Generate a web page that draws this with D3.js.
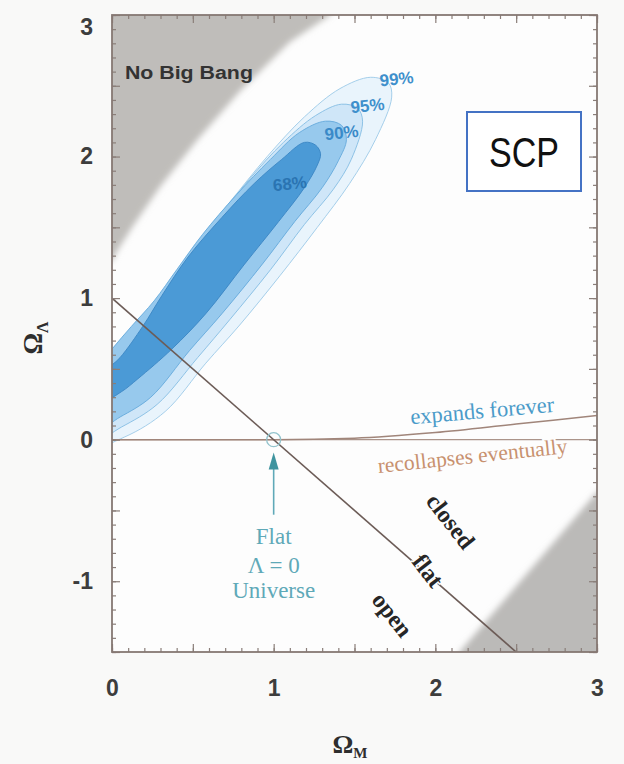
<!DOCTYPE html>
<html>
<head>
<meta charset="utf-8">
<script src="https://cdn.jsdelivr.net/npm/d3@7"></script>
<style>
  html, body { margin: 0; padding: 0; background: #f9f9f8; }
  svg { display: block; }
</style>
</head>
<body>
<script>
// Axis ticks
const omegaMTicks = [0, 1, 2, 3];
const omegaLTicks = [-1, 0, 1, 2, 3];

// Excluded regions, [Ω_M, Ω_Λ]
const noBigBangEdge = [[0, 1.26], [0.03, 1.33], [0.13, 1.51], [0.30, 1.79], [0.53, 2.12],
                       [0.79, 2.46], [1.10, 2.81], [1.35, 3.0]];
const lowerRightEdge = [[2.15, -1.5], [3.0, -0.37]];

// Reference lines
const flatLine = [[0, 1], [2.5, -1.5]];
const lambdaZero = [[0, 0], [3, 0]];
const expansionEdge = [[0, 0], [1, 0], [1.5, 0.01], [2, 0.05], [2.5, 0.11], [3, 0.17]];

// Confidence contours, [Ω_M, Ω_Λ]
const contour68 = [[1.29, 2.02], [1.26, 2.08], [1.19, 2.10], [1.05, 1.98], [0.88, 1.81], [0.68, 1.57],
  [0.47, 1.29], [0.31, 1.02], [0.19, 0.80], [0.05, 0.58], [-0.04, 0.48], [-0.07, 0.36], [-0.03, 0.29],
  [0.06, 0.34], [0.16, 0.43], [0.37, 0.64], [0.58, 0.89], [0.82, 1.24], [1.03, 1.54], [1.19, 1.78], [1.27, 1.94]];
const contour90 = [[1.45, 2.12], [1.42, 2.22], [1.32, 2.25], [1.16, 2.17], [0.98, 1.98], [0.77, 1.73],
  [0.56, 1.45], [0.40, 1.20], [0.26, 0.98], [0.12, 0.80], [0.00, 0.64], [-0.11, 0.48], [-0.12, 0.22],
  [-0.07, 0.09], [0.05, 0.16], [0.24, 0.30], [0.48, 0.63], [0.68, 0.89], [0.93, 1.24], [1.13, 1.54],
  [1.30, 1.78], [1.40, 1.97]];
const contour95 = [[1.55, 2.25], [1.52, 2.34], [1.42, 2.37], [1.26, 2.29], [1.06, 2.10], [0.85, 1.84],
  [0.64, 1.54], [0.46, 1.29], [0.32, 1.05], [0.18, 0.85], [0.05, 0.68], [-0.09, 0.51], [-0.17, 0.22],
  [-0.11, 0.00], [0.06, 0.09], [0.28, 0.25], [0.53, 0.58], [0.73, 0.85], [0.98, 1.20], [1.19, 1.52],
  [1.37, 1.77], [1.48, 1.98]];
const contour99 = [[1.73, 2.42], [1.71, 2.52], [1.60, 2.56], [1.41, 2.48], [1.19, 2.28], [0.96, 2.00],
  [0.73, 1.68], [0.53, 1.40], [0.38, 1.15], [0.24, 0.94], [0.09, 0.74], [-0.07, 0.54], [-0.20, 0.22],
  [-0.14, -0.05], [0.08, 0.02], [0.33, 0.20], [0.58, 0.54], [0.79, 0.81], [1.04, 1.16], [1.27, 1.50],
  [1.47, 1.81], [1.63, 2.12]];

const W = 624, H = 764;
const svg = d3.select("body").append("svg").attr("width", W).attr("height", H);

const x = d3.scaleLinear().domain([0, 3]).range([112, 597]);
const y = d3.scaleLinear().domain([-1.5, 3]).range([652, 15]);
const [x0, x1] = x.range();
const [y0, y1] = [y(3), y(-1.5)];

const defs = svg.append("defs");
defs.append("clipPath").attr("id", "plotClip")
  .append("rect").attr("x", x0).attr("y", y0).attr("width", x1 - x0).attr("height", y1 - y0);
defs.append("filter").attr("id", "soft").attr("x", "-20%").attr("y", "-20%").attr("width", "140%").attr("height", "140%")
  .append("feGaussianBlur").attr("stdDeviation", 3.2);
defs.append("filter").attr("id", "softer")
  .append("feGaussianBlur").attr("stdDeviation", 0.6);

// plot background
svg.append("rect").attr("x", x0).attr("y", y0).attr("width", x1 - x0).attr("height", y1 - y0)
  .attr("fill", "#fdfdfd");

const plot = svg.append("g").attr("clip-path", "url(#plotClip)");
const line = d3.line().x(d => x(d[0])).y(d => y(d[1]));

// grey excluded regions (padded past the frame so the soft edge stays inside)
const [mLo, mHi] = x.domain(), [lLo, lHi] = y.domain();
const nbFirst = noBigBangEdge[0], nbLast = noBigBangEdge[noBigBangEdge.length - 1];
const nbPoly = [[mLo - 0.3, nbFirst[1]], ...noBigBangEdge, [nbLast[0], lHi + 0.3], [mLo - 0.3, lHi + 0.3]];
const lrFirst = lowerRightEdge[0], lrLast = lowerRightEdge[lowerRightEdge.length - 1];
const lrPoly = [[lrFirst[0], lLo - 0.3], ...lowerRightEdge, [mHi + 0.3, lrLast[1]], [mHi + 0.3, lLo - 0.3]];
const greys = plot.append("g").attr("filter", "url(#soft)");
greys.append("path").attr("d", line(nbPoly) + "Z").attr("fill", "#bfbdba");
greys.append("path").attr("d", line(lrPoly) + "Z").attr("fill", "#bbbab8");

// confidence regions
const closed = d3.line().x(d => x(d[0])).y(d => y(d[1])).curve(d3.curveCatmullRomClosed.alpha(0.5));
const cg = plot.append("g").attr("filter", "url(#softer)");
[
  { pts: contour99, fill: "#e9f4fc", stroke: "#9ccae8" },
  { pts: contour95, fill: "#cfe6f8", stroke: "#84bde3" },
  { pts: contour90, fill: "#97c9ed", stroke: "#64a9db" },
  { pts: contour68, fill: "#4b9ad6", stroke: "#3a86c4" }
].forEach(c => {
  cg.append("path").attr("d", closed(c.pts)).attr("fill", c.fill)
    .attr("stroke", c.stroke).attr("stroke-width", 0.9);
});

// reference lines
plot.append("path").attr("d", line(lambdaZero)).attr("fill", "none")
  .attr("stroke", "#ab948a").attr("stroke-width", 1.4);
plot.append("path").attr("d", d3.line().x(d => x(d[0])).y(d => y(d[1])).curve(d3.curveMonotoneX)(expansionEdge))
  .attr("fill", "none").attr("stroke", "#a0857a").attr("stroke-width", 1.5);
plot.append("path").attr("d", line(flatLine)).attr("fill", "none")
  .attr("stroke", "#6c5c57").attr("stroke-width", 1.6);

// flat, Λ = 0 universe marker
const teal = "#5fa9b8";
plot.append("circle").attr("cx", x(1)).attr("cy", y(0)).attr("r", 7)
  .attr("fill", "none").attr("stroke", "#93c3cc").attr("stroke-width", 1.3);
plot.append("line").attr("x1", x(1)).attr("x2", x(1)).attr("y1", y(-0.2)).attr("y2", y(-0.53))
  .attr("stroke", teal).attr("stroke-width", 1.6);
plot.append("path")
  .attr("d", `M${x(1)},${y(-0.09)} L${x(1) - 5},${y(-0.21)} L${x(1) + 5},${y(-0.21)} Z`)
  .attr("fill", "#3f949f");

// ticks (inward), minor every 0.1, major every 0.5
const minorM = d3.range(0, 3.001, 0.1), majorM = d3.range(0, 3.001, 0.5);
const minorL = d3.range(-1.5, 3.001, 0.1), majorL = d3.range(-1.5, 3.001, 0.5);
const tickColor = "#8a7e79";
function tickAxis(axis, vals, size, transform) {
  const g = svg.append("g").attr("transform", transform)
    .call(axis.tickValues(vals).tickSize(size).tickFormat(""));
  g.select(".domain").remove();
  g.selectAll(".tick line").attr("stroke", tickColor).attr("stroke-width", 1.2);
}
tickAxis(d3.axisBottom(x), minorM, -4, `translate(0,${y1})`);
tickAxis(d3.axisBottom(x), majorM, -8, `translate(0,${y1})`);
tickAxis(d3.axisTop(x), minorM, -4, `translate(0,${y0})`);
tickAxis(d3.axisTop(x), majorM, -8, `translate(0,${y0})`);
tickAxis(d3.axisLeft(y), minorL, -4, `translate(${x0},0)`);
tickAxis(d3.axisLeft(y), majorL, -8, `translate(${x0},0)`);
tickAxis(d3.axisRight(y), minorL, -4, `translate(${x1},0)`);
tickAxis(d3.axisRight(y), majorL, -8, `translate(${x1},0)`);

// frame
svg.append("rect").attr("x", x0).attr("y", y0).attr("width", x1 - x0).attr("height", y1 - y0)
  .attr("fill", "none").attr("stroke", "#857873").attr("stroke-width", 1.8);

// tick labels
const labelFont = "'Liberation Sans', Arial, sans-serif";
const plain = d => String(d);
const gx = svg.append("g").attr("transform", `translate(0,${y1})`)
  .call(d3.axisBottom(x).tickValues(omegaMTicks).tickSize(0).tickPadding(28).tickFormat(plain));
gx.select(".domain").remove();
gx.selectAll("text").attr("font-family", labelFont).attr("font-size", 23).attr("font-weight", 700).attr("fill", "#3d3d3d");

const gy = svg.append("g").attr("transform", `translate(${x0},0)`)
  .call(d3.axisLeft(y).tickValues(omegaLTicks).tickSize(0).tickPadding(19).tickFormat(plain));
gy.select(".domain").remove();
gy.selectAll("text").attr("font-family", labelFont).attr("font-size", 23).attr("font-weight", 700).attr("fill", "#3d3d3d");
// keep the top label clear of the frame corner
gy.selectAll(".tick").filter(d => d === 3).select("text").attr("dy", "0.85em");

// axis titles
const serif = "'Liberation Serif', 'Times New Roman', serif";
const xt = svg.append("text").attr("x", 350).attr("y", 753).attr("text-anchor", "middle")
  .attr("font-family", serif).attr("font-size", 26).attr("font-weight", 700).attr("fill", "#2e2e2e");
xt.append("tspan").text("Ω");
xt.append("tspan").attr("font-size", 15).attr("dy", 5).text("M");

const yt = svg.append("text").attr("transform", "translate(42,338) rotate(-90)").attr("text-anchor", "middle")
  .attr("font-family", serif).attr("font-size", 27).attr("font-weight", 700).attr("fill", "#2e2e2e");
yt.append("tspan").text("Ω");
yt.append("tspan").attr("font-size", 16).attr("dy", 6).text("Λ");

// region labels
svg.append("text").attr("x", x(0.08)).attr("y", y(2.55))
  .attr("font-family", labelFont).attr("font-size", 18).attr("font-weight", 700)
  .attr("fill", "#333").attr("textLength", 128).attr("lengthAdjust", "spacingAndGlyphs").text("No Big Bang");

const pct = [
  { t: "99%", m: 1.76, l: 2.55, c: "#3f90cc" },
  { t: "95%", m: 1.58, l: 2.36, c: "#3f90cc" },
  { t: "90%", m: 1.42, l: 2.17, c: "#3a8ac8" },
  { t: "68%", m: 1.10, l: 1.81, c: "#2a74b2" }
];
svg.selectAll("text.pct").data(pct).join("text").attr("class", "pct")
  .attr("transform", d => `translate(${x(d.m)},${y(d.l)}) rotate(-6)`)
  .attr("text-anchor", "middle").attr("dy", "0.35em")
  .attr("font-family", labelFont).attr("font-size", 17).attr("font-weight", 700)
  .attr("fill", d => d.c).text(d => d.t);

function halo(sel) {
  return sel.attr("stroke", "#fdfdfd").attr("stroke-width", 4).attr("paint-order", "stroke");
}
halo(svg.append("text").attr("transform", `translate(${x(2.29)},${y(0.20)}) rotate(-5)`)
  .attr("text-anchor", "middle").attr("dy", "0.3em")
  .attr("font-family", serif).attr("font-size", 22.5).attr("fill", "#4b9bc9").text("expands forever"));
halo(svg.append("text").attr("transform", `translate(${x(2.23)},${y(-0.12)}) rotate(-6)`)
  .attr("text-anchor", "middle").attr("dy", "0.3em")
  .attr("font-family", serif).attr("font-size", 21.5).attr("fill", "#c8916f").text("recollapses eventually"));

const geo = [
  { t: "closed", m: 2.09, l: -0.58 },
  { t: "flat", m: 1.95, l: -0.93 },
  { t: "open", m: 1.73, l: -1.24 }
];
svg.selectAll("text.geo").data(geo).join("text").attr("class", "geo")
  .attr("transform", d => `translate(${x(d.m)},${y(d.l)}) rotate(52)`)
  .attr("text-anchor", "middle").attr("dy", "0.3em")
  .attr("font-family", serif).attr("font-size", 24).attr("font-weight", 700)
  .attr("fill", "#262626")
  .attr("stroke", "#fdfdfd").attr("stroke-width", 3).attr("paint-order", "stroke")
  .text(d => d.t);

const flatText = [
  { t: "Flat", l: -0.74 },
  { t: "Λ = 0", l: -0.94 },
  { t: "Universe", l: -1.12 }
];
svg.selectAll("text.flatu").data(flatText).join("text").attr("class", "flatu")
  .attr("x", x(1)).attr("y", d => y(d.l)).attr("text-anchor", "middle")
  .attr("font-family", serif).attr("font-size", 23).attr("fill", teal).text(d => d.t);

// SCP tag
svg.append("rect").attr("x", 467).attr("y", 112).attr("width", 114).attr("height", 79)
  .attr("fill", "#ffffff").attr("stroke", "#4472c4").attr("stroke-width", 2);
svg.append("text").attr("x", 524).attr("y", 167).attr("text-anchor", "middle")
  .attr("font-family", "'Liberation Sans', Arial, sans-serif").attr("font-size", 42)
  .attr("textLength", 70).attr("lengthAdjust", "spacingAndGlyphs")
  .attr("fill", "#111").text("SCP");
</script>
</body>
</html>
